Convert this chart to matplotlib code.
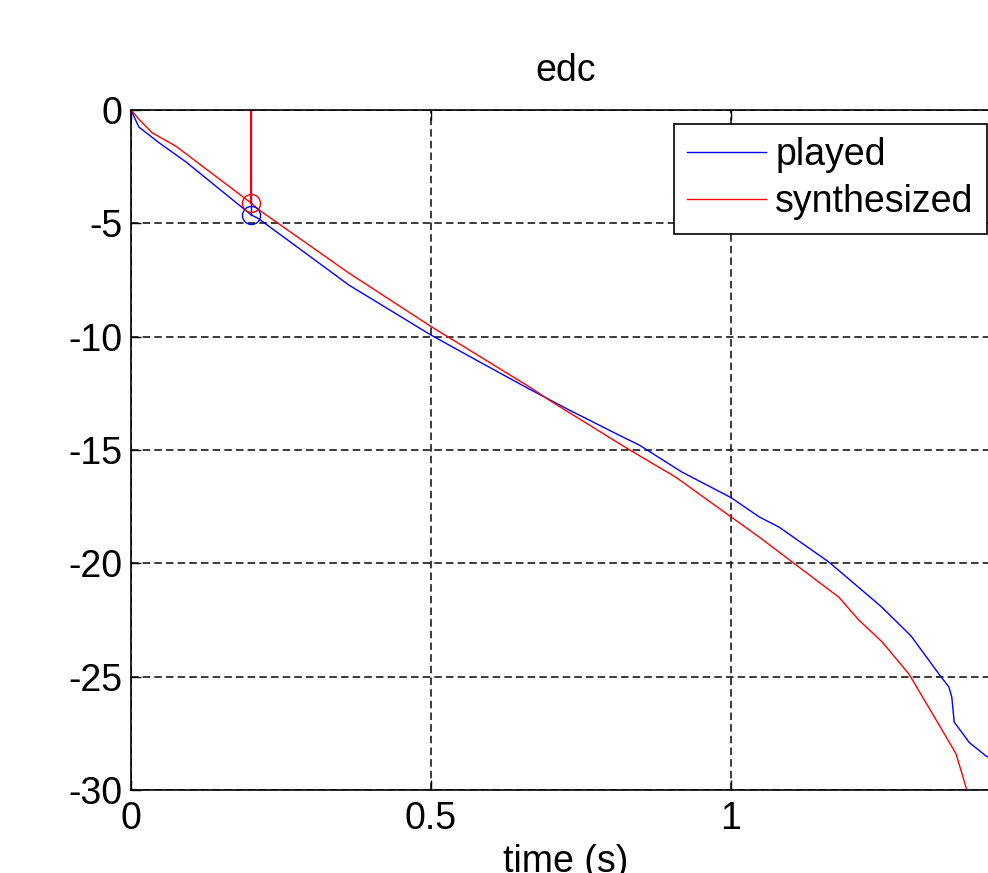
import matplotlib
matplotlib.use("Agg")
import matplotlib.pyplot as plt
import numpy as np

plt.rcParams['font.family'] = ['Liberation Sans', 'DejaVu Sans']
plt.rcParams['axes.unicode_minus'] = False

# energy decay curves (dB)
t_played = [0, 0.013, 0.047, 0.092, 0.2, 0.213, 0.363, 0.5, 0.58, 0.663, 0.73,
            0.813, 0.847, 0.918, 1.0, 1.047, 1.08, 1.163, 1.25, 1.3, 1.347,
            1.363, 1.368, 1.372, 1.397, 1.425, 1.448]
edc_played = [0, -0.75, -1.45, -2.3, -4.62, -4.8, -7.72, -9.93, -11.1, -12.3, -13.23,
              -14.34, -14.78, -15.97, -17.1, -17.95, -18.4, -19.94, -21.9, -23.2, -24.9,
              -25.45, -25.9, -27.0, -27.9, -28.5, -28.8]

t_synth = [0, 0.013, 0.035, 0.075, 0.2, 0.213, 0.363, 0.5, 0.58, 0.663, 0.7, 0.825, 0.908,
           1.0, 1.047, 1.102, 1.18, 1.213, 1.252, 1.297, 1.335, 1.375, 1.393]
edc_synth = [0, -0.4, -1.0, -1.6, -4.1, -4.4, -7.19, -9.55, -10.85, -12.2, -12.85, -14.9, -16.2,
             -17.95, -18.84, -19.94, -21.5, -22.5, -23.47, -24.9, -26.6, -28.4, -30.0]

# marked points
mark_t = 0.2
mark_played = -4.65
mark_synth = -4.1

xticks = [0, 0.5, 1]
xlabels = ['0', '0.5', '1']
yticks = [-30, -25, -20, -15, -10, -5, 0]

W, H = 988, 873
fig = plt.figure(figsize=(W/100, H/100), dpi=100)
ax = fig.add_axes([131/W, 1-790/H, 869/W, 680/H])

ax.plot(t_played, edc_played, color='blue', lw=1.0, label='played')
ax.plot(t_synth, edc_synth, color='red', lw=1.0, label='synthesized')

ax.plot([mark_t, mark_t], [0, mark_played], color='blue', lw=1.0)
ax.plot(mark_t, mark_played, 'o', mfc='none', mec='blue', ms=13, mew=1.0)
ax.plot([mark_t, mark_t], [0, mark_synth], color='red', lw=1.5)
ax.plot(mark_t, mark_synth, 'o', mfc='none', mec='red', ms=13, mew=1.0)

ax.set_xlim(0, 869/600)
ax.set_ylim(-30, 0)
ax.set_xticks(xticks)
ax.set_xticklabels(xlabels)
ax.set_yticks(yticks)
ax.set_yticklabels([str(v) for v in yticks])

ax.grid(True, color='0.1', lw=1.2, linestyle=(0, (4.5, 2.5)))
ax.tick_params(direction='in', length=7, width=1.0, top=True, right=True,
               labelsize=27, pad=6)
ax.tick_params(axis='x', pad=8)
for s in ax.spines.values():
    s.set_linewidth(1.2)

ax.set_title('edc', fontsize=27, pad=21)
ax.set_xlabel('time (s)', fontsize=27, labelpad=5)

leg = ax.legend(loc='upper left', bbox_to_anchor=((674-131)/869, 1-14/680),
                borderaxespad=0, fontsize=27, fancybox=False, edgecolor='black',
                framealpha=1, handlelength=2.1, handletextpad=0.25,
                labelspacing=0.3, borderpad=0.35)
leg.get_frame().set_linewidth(1.2)

fig.savefig('out.png', dpi=100)
